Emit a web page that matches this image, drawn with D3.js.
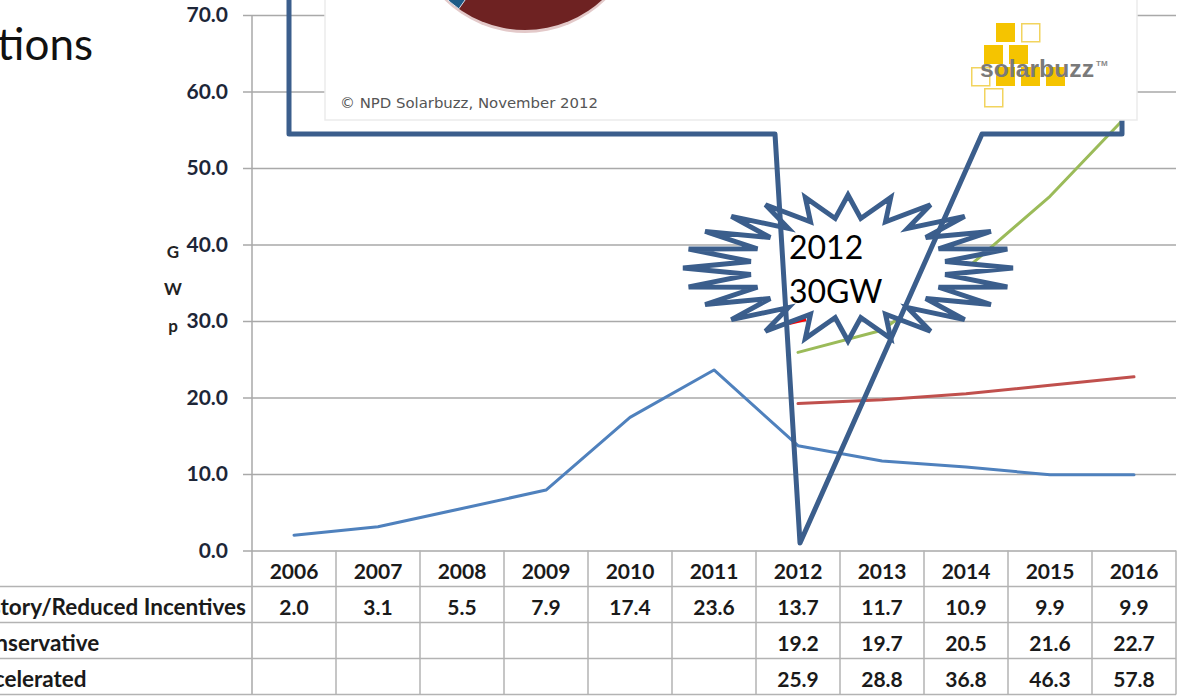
<!DOCTYPE html>
<html>
<head>
<meta charset="utf-8">
<script src="https://cdn.jsdelivr.net/npm/d3@7"></script>
<style>
  html, body { margin: 0; padding: 0; background: #ffffff; }
  svg { display: block; }
</style>
</head>
<body>
<svg id="chart" width="1182" height="700"></svg>
<script>
// ---------------- data ----------------
const years = ["2006","2007","2008","2009","2010","2011","2012","2013","2014","2015","2016"];
const historyReduced = [2.0, 3.1, 5.5, 7.9, 17.4, 23.6, 13.7, 11.7, 10.9, 9.9, 9.9];
const conservative   = [null, null, null, null, null, null, 19.2, 19.7, 20.5, 21.6, 22.7];
const accelerated    = [null, null, null, null, null, null, 25.9, 28.8, 36.8, 46.3, 57.8];
const seriesNames = ["History/Reduced Incentives", "Conservative", "Accelerated"];
const yTicks = [0, 10, 20, 30, 40, 50, 60, 70];
const yTitle = ["G", "W", "p"];
const calloutText = ["2012", "30GW"];
const copyrightText = "\u00A9 NPD Solarbuzz, November 2012";

// ---------------- setup ----------------
const svg = d3.select("#chart");
const left = 252, right = 1176;
const x = d3.scaleBand().domain(years).range([left, right]).padding(0);
const y = d3.scaleLinear().domain([0, 70]).range([550.5, 15]);
const rowH = 36;
const tableTop = y(0);
const gridColor = "#a9a9a9";
const font = "Lato, 'Open Sans', sans-serif";

// title fragment (cut by left edge)
svg.append("text").attr("x", 93).attr("y", 60).attr("text-anchor", "end")
  .attr("font-family", font).attr("font-size", 44).attr("fill", "#111")
  .text("Projections");

// gridlines
svg.append("g").attr("transform", `translate(${left},0)`)
  .call(d3.axisLeft(y).tickValues(yTicks).tickSize(-(right - left)).tickFormat(""))
  .call(g => g.select(".domain").remove())
  .call(g => g.selectAll("line").attr("stroke", gridColor).attr("stroke-width", 1.5));

// y axis ticks + labels
svg.append("g").attr("transform", `translate(${left},0)`)
  .call(d3.axisLeft(y).tickValues(yTicks).tickSize(9).tickPadding(15).tickFormat(d3.format(".1f")))
  .call(g => g.select(".domain").remove())
  .call(g => g.selectAll("line").attr("stroke", gridColor).attr("stroke-width", 1.5))
  .call(g => g.selectAll("text").attr("font-family", font).attr("font-weight", "bold")
      .attr("font-size", 21).attr("fill", "#1d2638"));

// y axis vertical line (continues as table border)
svg.append("line").attr("x1", left).attr("x2", left).attr("y1", y(70)).attr("y2", tableTop + rowH * 4)
  .attr("stroke", gridColor).attr("stroke-width", 1.5);

// y title
svg.append("g").selectAll("text").data(yTitle).join("text")
  .attr("x", 173).attr("y", (d, i) => 258 + i * 37).attr("text-anchor", "middle")
  .attr("font-family", font).attr("font-weight", "bold").attr("font-size", 17).attr("fill", "#222")
  .text(d => d);

// ---------------- table ----------------
const tbl = svg.append("g");
[1, 2, 3, 4].forEach(k => {
  tbl.append("line").attr("x1", -5).attr("x2", right)
    .attr("y1", tableTop + rowH * k).attr("y2", tableTop + rowH * k)
    .attr("stroke", "#b3b3b3").attr("stroke-width", 1.5);
});
years.forEach(yr => {
  tbl.append("line").attr("x1", x(yr) + x.bandwidth()).attr("x2", x(yr) + x.bandwidth())
    .attr("y1", tableTop).attr("y2", tableTop + rowH * 4)
    .attr("stroke", "#b3b3b3").attr("stroke-width", 1.5);
});
const cellText = (sel) => sel.attr("font-family", font).attr("font-weight", "bold")
  .attr("font-size", 21).attr("fill", "#1a1a1a").attr("text-anchor", "middle");
tbl.append("g").selectAll("text").data(years).join("text")
  .attr("x", d => x(d) + x.bandwidth() / 2).attr("y", tableTop + rowH / 2 + 10)
  .call(cellText).text(d => d);
const rows = [historyReduced, conservative, accelerated];
rows.forEach((vals, r) => {
  tbl.append("g").selectAll("text").data(vals.map((v, i) => ({ v, yr: years[i] })).filter(d => d.v !== null))
    .join("text")
    .attr("x", d => x(d.yr) + x.bandwidth() / 2)
    .attr("y", tableTop + rowH * (r + 1) + rowH / 2 + 10)
    .call(cellText).text(d => d3.format(".1f")(d.v));
});
// row labels, left-aligned; first label ends just before the axis
const labSize = 22.5;
const lab0 = tbl.append("text").attr("font-family", font).attr("font-weight", "bold")
  .attr("font-size", labSize).attr("fill", "#1a1a1a").text(seriesNames[0]);
const w0 = lab0.node().getComputedTextLength();
const labX = 246 - w0;
lab0.remove();
tbl.append("g").selectAll("text").data(seriesNames).join("text")
  .attr("x", labX).attr("y", (d, i) => tableTop + rowH * (i + 1) + rowH / 2 + 10)
  .attr("font-family", font).attr("font-weight", "bold").attr("font-size", labSize).attr("fill", "#1a1a1a")
  .text(d => d);

// ---------------- series lines ----------------
const colors = ["#4f81bd", "#c0504d", "#9bbb59"];
const line = d3.line()
  .defined(d => d.v !== null)
  .x(d => x(d.yr) + x.bandwidth() / 2)
  .y(d => y(d.v));
rows.forEach((vals, r) => {
  svg.append("path")
    .datum(vals.map((v, i) => ({ v, yr: years[i] })))
    .attr("d", line).attr("fill", "none")
    .attr("stroke", colors[r]).attr("stroke-width", 3)
    .attr("stroke-linejoin", "round").attr("stroke-linecap", "round");
});

// small red fragment peeking below the starburst
svg.append("line").attr("x1", 789).attr("y1", 323).attr("x2", 806).attr("y2", 319)
  .attr("stroke", "#ff0000").attr("stroke-width", 4);

// ---------------- starburst ----------------
const cx = 848, cy = 268, N = 24;
const pts = d3.range(2 * N).map(i => {
  const a = -Math.PI / 2 + i * Math.PI / N;
  const outer = i % 2 === 0;
  const rx = outer ? 165 : 98, ry = outer ? 73 : 50;
  return [cx + rx * Math.cos(a), cy + ry * Math.sin(a)];
});
svg.append("path").attr("d", "M" + pts.map(p => p.join(",")).join("L") + "Z")
  .attr("fill", "#ffffff").attr("stroke", "#3b5e8c").attr("stroke-width", 5)
  .attr("stroke-linejoin", "miter");
svg.append("g").selectAll("text").data(calloutText).join("text")
  .attr("x", 789).attr("y", (d, i) => 259 + i * 44)
  .attr("font-family", font).attr("font-size", 32).attr("fill", "#000")
  .text(d => d);

// ---------------- callout outline ----------------
svg.append("path")
  .attr("d", "M289,-10 L289,134 L775,134 L800,543 L982,134 L1122,134 L1122,-10")
  .attr("fill", "none").attr("stroke", "#3b5e8c").attr("stroke-width", 5)
  .attr("stroke-linejoin", "round");

// ---------------- embedded picture (pie fragment + logo) ----------------
const pic = svg.append("g");
pic.append("rect").attr("x", 325).attr("y", -5).attr("width", 812).attr("height", 125)
  .attr("fill", "#ffffff").attr("stroke", "#ebebeb").attr("stroke-width", 1.5);
const pcx = 525, pcy = -84, pr = 114;
pic.append("circle").attr("cx", pcx).attr("cy", pcy + 2).attr("r", pr + 1).attr("fill", "#e3c9c9");
pic.append("circle").attr("cx", pcx).attr("cy", pcy).attr("r", pr).attr("fill", "#6e2222");
const a1 = 125.5 * Math.PI / 180, a2 = 165 * Math.PI / 180;
pic.append("path")
  .attr("d", `M${pcx},${pcy} L${pcx + pr * Math.cos(a1)},${pcy + pr * Math.sin(a1)} A${pr},${pr} 0 0 1 ${pcx + pr * Math.cos(a2)},${pcy + pr * Math.sin(a2)} Z`)
  .attr("fill", "#1d5a86").attr("stroke", "#d8e4ee").attr("stroke-width", 1);
pic.append("text").attr("x", 340).attr("y", 108)
  .attr("font-family", "'DejaVu Sans', Verdana, sans-serif").attr("font-size", 13.5).attr("fill", "#555")
  .attr("textLength", 258).attr("lengthAdjust", "spacingAndGlyphs")
  .text(copyrightText);
const filledSq = [[996, 23], [984, 45], [1009, 45], [996, 67], [1021, 67], [1046, 67]];
const openSq = [[1021, 23], [971, 67], [984, 88]];
pic.append("g").selectAll("rect").data(filledSq).join("rect")
  .attr("x", d => d[0]).attr("y", d => d[1]).attr("width", 19).attr("height", 19).attr("fill", "#f5c400");
pic.append("g").selectAll("rect").data(openSq).join("rect")
  .attr("x", d => d[0] + 0.75).attr("y", d => d[1] + 0.75).attr("width", 18).attr("height", 18)
  .attr("fill", "none").attr("stroke", "#f2d45e").attr("stroke-width", 1.5);
pic.append("text").attr("x", 980).attr("y", 77)
  .attr("font-family", "'Liberation Sans', Arial, sans-serif").attr("font-weight", "bold")
  .attr("font-size", 23).attr("fill", "#7a7a7a").attr("textLength", 114).attr("lengthAdjust", "spacingAndGlyphs")
  .text("solarbuzz");
pic.append("text").attr("x", 1096).attr("y", 66)
  .attr("font-family", "'Liberation Sans', Arial, sans-serif").attr("font-weight", "bold")
  .attr("font-size", 8).attr("fill", "#8a8a8a").text("TM");
</script>
</body>
</html>
